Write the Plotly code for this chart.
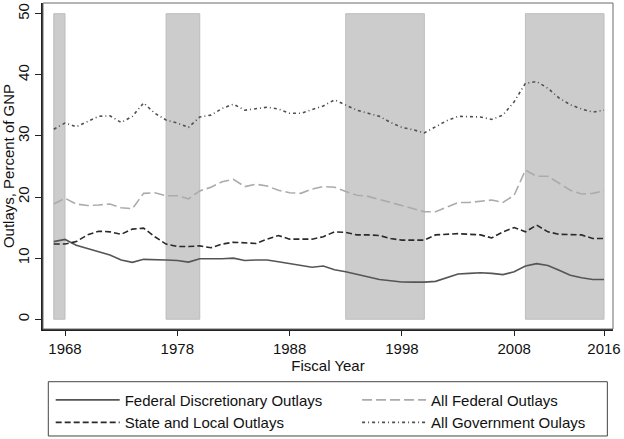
import plotly.graph_objects as go

years = list(range(1967, 2017))

fed_discretionary = [12.7, 13.06, 12.1, 11.6, 11.0, 10.5, 9.7, 9.3, 9.8, 9.8,
                     9.7, 9.6, 9.35, 9.9, 9.85, 9.9, 10.0, 9.6, 9.7, 9.7,
                     9.4, 9.1, 8.85, 8.5, 8.7, 8.1, 7.76, 7.3, 6.9, 6.5,
                     6.3, 6.1, 6.07, 6.07, 6.2, 6.8, 7.4, 7.5, 7.6, 7.5,
                     7.3, 7.76, 8.7, 9.1, 8.8, 8.0, 7.2, 6.8, 6.5, 6.5]

all_federal = [18.85, 19.8, 18.85, 18.6, 18.7, 18.85, 18.25, 18.1, 20.6, 20.7,
               20.2, 20.2, 19.7, 21.0, 21.6, 22.5, 22.9, 21.7, 22.1, 21.8,
               21.1, 20.7, 20.6, 21.3, 21.7, 21.6, 20.9, 20.3, 20.1, 19.6,
               19.1, 18.5, 18.0, 17.6, 17.6, 18.4, 19.1, 19.1, 19.3, 19.5,
               19.1, 20.3, 24.4, 23.4, 23.4, 22.3, 21.1, 20.5, 20.6, 21.0]

state_local = [12.3, 12.3, 12.7, 13.8, 14.4, 14.3, 13.9, 14.75, 14.9, 13.5,
               12.3, 11.9, 11.9, 12.0, 11.7, 12.3, 12.6, 12.5, 12.4, 13.1,
               13.7, 13.1, 13.1, 13.1, 13.5, 14.3, 14.2, 13.8, 13.8, 13.7,
               13.2, 12.95, 12.95, 12.95, 13.8, 13.9, 14.0, 13.9, 13.8, 13.3,
               14.3, 15.0, 14.3, 15.4, 14.3, 13.9, 13.9, 13.8, 13.2, 13.2]

all_government = [31.1, 32.1, 31.5, 32.3, 33.2, 33.3, 32.2, 33.2, 35.4, 33.7,
                  32.6, 32.1, 31.4, 33.1, 33.4, 34.5, 35.2, 34.2, 34.5, 34.7,
                  34.4, 33.7, 33.7, 34.3, 34.9, 35.9, 35.1, 34.2, 33.7, 33.2,
                  32.2, 31.4, 31.0, 30.5, 31.5, 32.5, 33.2, 33.1, 33.1, 32.7,
                  33.4, 35.6, 38.6, 38.9, 37.8, 36.2, 35.1, 34.4, 33.9, 34.2]

band_start = [1967, 1977, 1993, 2009]
band_end = [1968, 1980, 2000, 2016]
band_top = 50

x_ticks = [1968, 1978, 1988, 1998, 2008, 2016]
y_ticks = [0, 10, 20, 30, 40, 50]

FONT = "Liberation Sans, Arial, sans-serif"

fig = go.Figure()

fig.add_trace(go.Bar(
    x=[(s + e) / 2 for s, e in zip(band_start, band_end)],
    y=[band_top] * len(band_start),
    width=[e - s for s, e in zip(band_start, band_end)],
    base=0,
    marker=dict(color="#cccccc", line=dict(color="#bdbdbd", width=1)),
    showlegend=False, hoverinfo="skip",
))

fig.add_trace(go.Scatter(x=years, y=fed_discretionary, mode="lines",
                         name="Federal Discretionary Outlays", legend="legend",
                         legendgroup="a",
                         line=dict(color="#555555", width=1.6, dash="solid")))
fig.add_trace(go.Scatter(x=years, y=state_local, mode="lines",
                         name="State and Local Outlays", legend="legend",
                         legendgroup="b",
                         line=dict(color="#2a2a2a", width=1.6, dash="6px,3px")))
fig.add_trace(go.Scatter(x=years, y=all_federal, mode="lines",
                         name="All Federal Outlays", legend="legend2",
                         legendgroup="c",
                         line=dict(color="#ababab", width=1.6, dash="10px,4px")))
fig.add_trace(go.Scatter(x=years, y=all_government, mode="lines",
                         name="All Government Oulays", legend="legend2",
                         legendgroup="d",
                         line=dict(color="#505050", width=1.6, dash="3px,3px,1px,3px")))

legend_common = dict(
    orientation="v", y=-0.1675, yanchor="top", xanchor="left",
    borderwidth=0, bgcolor="rgba(0,0,0,0)", font=dict(size=15, color="#111111"),
    itemwidth=64, tracegroupgap=3, traceorder="normal",
)

fig.update_layout(
    width=624, height=439,
    margin=dict(l=43, r=11, t=3, b=110, autoexpand=False),
    paper_bgcolor="white", plot_bgcolor="white",
    font=dict(family=FONT, size=15, color="#111111"),
    barmode="overlay",
    xaxis=dict(
        range=[1966.04, 2016.8], tickvals=x_ticks, ticks="outside", ticklen=5,
        tickcolor="#222", showline=True, linecolor="#222", linewidth=1.5,
        showgrid=False, zeroline=False, ticklabeloverflow="allow",
        title=dict(text="Fiscal Year", standoff=0, font=dict(size=15)),
    ),
    yaxis=dict(
        range=[-1.6, 51.75], tickvals=y_ticks, ticks="outside", ticklen=6,
        tickcolor="#222", showline=True, linecolor="#222", linewidth=1.5,
        showgrid=False, zeroline=False, tickangle=-90,
        title=dict(text="Outlays, Percent of GNP", standoff=0, font=dict(size=15)),
    ),
    legend=dict(x=0.0135, **legend_common),
    legend2=dict(x=0.551, **legend_common),
    shapes=[
        dict(type="rect", xref="paper", yref="paper", x0=0, x1=1, y0=0, y1=1,
             line=dict(color="#6a6a6a", width=1), layer="above"),
        dict(type="rect", xref="paper", yref="paper",
             x0=0.0093, x1=0.9901, y0=-0.1617, y1=-0.3282,
             line=dict(color="#444444", width=1), layer="below"),
    ],
)

fig.write_html("out.html", config={"displayModeBar": False},
               post_script="document.body.style.margin='0';")
